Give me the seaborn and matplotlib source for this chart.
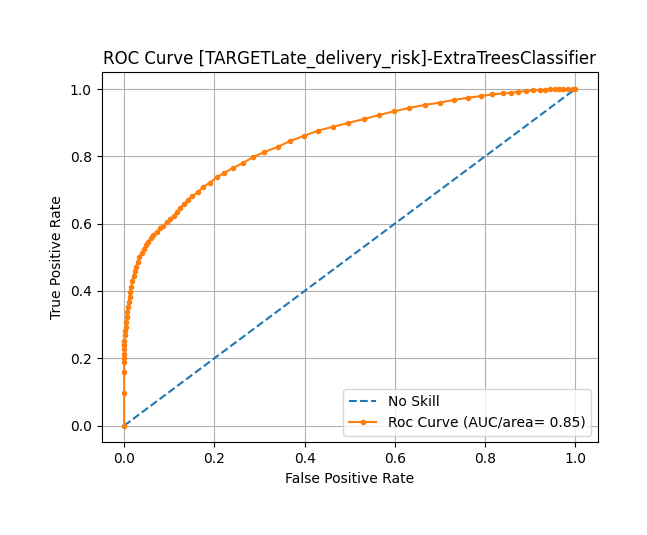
import matplotlib
matplotlib.use("Agg")
import matplotlib.pyplot as plt
import seaborn as sns
import pandas as pd

ns_fpr = [0.0, 1.0]
ns_tpr = [0.0, 1.0]

fpr = [0.0, 0.0, 0.0, 0.0, 0.0, 0.0, 0.0, 0.0, 0.0, 0.002, 0.002, 0.004, 0.005,
       0.006, 0.007, 0.009, 0.010, 0.012, 0.013, 0.016, 0.018, 0.021, 0.024,
       0.027, 0.030, 0.034, 0.039, 0.043, 0.048, 0.054, 0.059, 0.065, 0.073,
       0.080, 0.087, 0.095, 0.102, 0.110, 0.117, 0.124, 0.133, 0.141, 0.150,
       0.163, 0.175, 0.190, 0.206, 0.221, 0.241, 0.263, 0.286, 0.311, 0.340,
       0.367, 0.399, 0.429, 0.463, 0.496, 0.532, 0.565, 0.599, 0.632, 0.667,
       0.701, 0.732, 0.762, 0.790, 0.815, 0.839, 0.858, 0.874, 0.890, 0.906,
       0.921, 0.933, 0.945, 0.954, 0.963, 0.973, 0.984, 0.995, 1.0]
tpr = [0.0, 0.098, 0.160, 0.188, 0.200, 0.214, 0.228, 0.239, 0.252, 0.269,
       0.282, 0.294, 0.309, 0.323, 0.338, 0.353, 0.367, 0.383, 0.398, 0.413,
       0.430, 0.444, 0.459, 0.472, 0.487, 0.500, 0.512, 0.524, 0.536, 0.547,
       0.557, 0.566, 0.576, 0.586, 0.594, 0.604, 0.613, 0.623, 0.635, 0.647,
       0.658, 0.671, 0.681, 0.693, 0.709, 0.722, 0.738, 0.750, 0.765, 0.780,
       0.798, 0.813, 0.828, 0.845, 0.861, 0.876, 0.888, 0.899, 0.911, 0.923,
       0.934, 0.944, 0.953, 0.960, 0.968, 0.974, 0.979, 0.984, 0.987, 0.989,
       0.992, 0.994, 0.996, 0.997, 0.998, 1.0, 1.0, 1.0, 1.0, 1.0, 1.0, 1.0]

title = "ROC Curve [TARGETLate_delivery_risk]-ExtraTreesClassifier"
auc_label = "Roc Curve (AUC/area= 0.85)"

ns_df = pd.DataFrame({"fpr": ns_fpr, "tpr": ns_tpr})
roc_df = pd.DataFrame({"fpr": fpr, "tpr": tpr})

fig = plt.figure(figsize=(6.47, 5.35), dpi=100)
ax = fig.add_axes([0.157, 0.173, 0.767, 0.692])

sns.lineplot(data=ns_df, x="fpr", y="tpr", ax=ax, linestyle="--", color="C0",
             label="No Skill", sort=False, estimator=None)
sns.lineplot(data=roc_df, x="fpr", y="tpr", ax=ax, marker=".", color="C1",
             markersize=6, markeredgecolor="C1", markeredgewidth=1.0,
             label=auc_label, sort=False, estimator=None)

ax.set_xlim(-0.05, 1.05)
ax.set_ylim(-0.05, 1.05)
ax.set_xticks([0.0, 0.2, 0.4, 0.6, 0.8, 1.0])
ax.set_yticks([0.0, 0.2, 0.4, 0.6, 0.8, 1.0])
ax.set_xlabel("False Positive Rate")
ax.set_ylabel("True Positive Rate")
ax.set_title(title)
ax.grid(True)
ax.legend(loc="lower right")

fig.savefig("out.png", dpi=100)
